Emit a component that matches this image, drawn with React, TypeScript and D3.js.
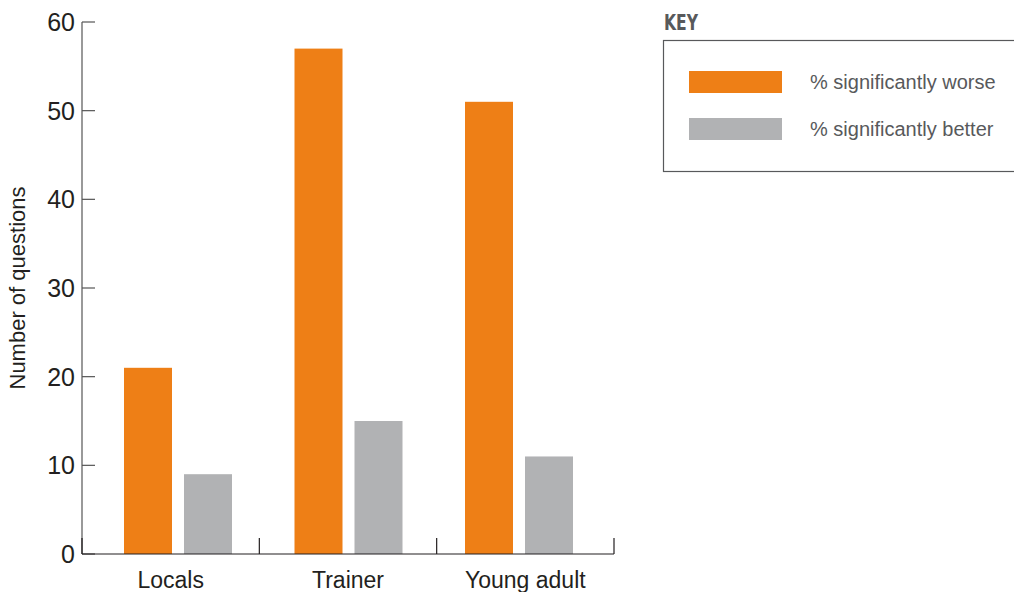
import { useEffect, useRef } from "react";
import * as d3 from "d3";

const categories = ["Locals", "Trainer", "Young adult"];
const worse = [21, 57, 51];
const better = [9, 15, 11];
const yTicks = [0, 10, 20, 30, 40, 50, 60];
const seriesNames = ["% significantly worse", "% significantly better"];

const ORANGE = "#ee7f16";
const GREY = "#b1b2b4";
const INK = "#231f20";
const SOFT = "#58595b";

export default function App() {
  const svgRef = useRef<SVGSVGElement>(null);
  const width = 1014;
  const height = 592;

  useEffect(() => {
    if (!svgRef.current) return;
    const svg = d3.select(svgRef.current);
    svg.selectAll("*").remove();

    const margin = { top: 22, left: 82 };
    const innerWidth = 532;
    const innerHeight = 532;

    const g = svg
      .append("g")
      .attr("transform", `translate(${margin.left},${margin.top})`);

    // category ticks split the axis evenly, bar pairs sit on their own grid
    const x = d3.scaleBand<string>().domain(categories).range([0, innerWidth]);
    const xPair = d3.scalePoint<string>().domain(categories).range([42, 383]);
    const y = d3.scaleLinear().domain([0, 60]).range([innerHeight, 0]);

    const barW = 48;
    const gap = 12;

    // y axis (ticks pointing inward)
    g.append("line")
      .attr("x1", 0)
      .attr("x2", 0)
      .attr("y1", 0)
      .attr("y2", innerHeight)
      .attr("stroke", "#555")
      .attr("stroke-width", 1.2);

    g.selectAll(".ytick")
      .data(yTicks)
      .enter()
      .append("line")
      .attr("x1", 0)
      .attr("x2", 13)
      .attr("y1", (d) => y(d))
      .attr("y2", (d) => y(d))
      .attr("stroke", "#555")
      .attr("stroke-width", 1.2);

    g.selectAll(".ylab")
      .data(yTicks)
      .enter()
      .append("text")
      .attr("x", -7)
      .attr("y", (d) => y(d))
      .attr("dy", "0.36em")
      .attr("text-anchor", "end")
      .attr("font-family", "Liberation Sans, Arial, sans-serif")
      .attr("font-size", 25)
      .attr("fill", INK)
      .text((d) => d);

    // bars
    const groups = g
      .selectAll(".cat")
      .data(categories)
      .enter()
      .append("g")
      .attr("transform", (d) => `translate(${xPair(d)!},0)`);

    groups
      .append("rect")
      .attr("x", 0)
      .attr("y", (_, i) => y(worse[i]))
      .attr("width", barW)
      .attr("height", (_, i) => innerHeight - y(worse[i]))
      .attr("fill", ORANGE);

    groups
      .append("rect")
      .attr("x", barW + gap)
      .attr("y", (_, i) => y(better[i]))
      .attr("width", barW)
      .attr("height", (_, i) => innerHeight - y(better[i]))
      .attr("fill", GREY);

    // x axis
    g.append("line")
      .attr("x1", 0)
      .attr("x2", innerWidth)
      .attr("y1", innerHeight)
      .attr("y2", innerHeight)
      .attr("stroke", INK)
      .attr("stroke-width", 1.2);

    const bounds = [...categories.map((c) => x(c)!), innerWidth];
    g.selectAll(".xtick")
      .data(bounds)
      .enter()
      .append("line")
      .attr("x1", (d) => d)
      .attr("x2", (d) => d)
      .attr("y1", innerHeight)
      .attr("y2", innerHeight - 16)
      .attr("stroke", INK)
      .attr("stroke-width", 1.2);

    g.selectAll(".xlab")
      .data(categories)
      .enter()
      .append("text")
      .attr("x", (d) => x(d)! + x.bandwidth() / 2)
      .attr("y", innerHeight + 34)
      .attr("text-anchor", "middle")
      .attr("font-family", "Liberation Sans, Arial, sans-serif")
      .attr("font-size", 23)
      .attr("fill", INK)
      .text((d) => d);

    // y title
    svg
      .append("text")
      .attr("transform", `translate(25,${margin.top + 266}) rotate(-90)`)
      .attr("text-anchor", "middle")
      .attr("font-family", "Liberation Sans, Arial, sans-serif")
      .attr("font-size", 22)
      .attr("fill", INK)
      .text("Number of questions");

    // key
    const key = svg.append("g");
    key
      .append("text")
      .attr("x", 664)
      .attr("y", 30)
      .attr("font-family", "DejaVu Sans Condensed, DejaVu Sans, sans-serif")
      .attr("font-stretch", "condensed")
      .attr("font-weight", "bold")
      .attr("font-size", 22)
      .attr("textLength", 34)
      .attr("lengthAdjust", "spacingAndGlyphs")
      .attr("fill", SOFT)
      .text("KEY");

    key
      .append("rect")
      .attr("x", 663.5)
      .attr("y", 40.5)
      .attr("width", 400)
      .attr("height", 131)
      .attr("fill", "none")
      .attr("stroke", SOFT)
      .attr("stroke-width", 1.2);

    const colors = [ORANGE, GREY];
    const rows = key
      .selectAll(".row")
      .data(seriesNames)
      .enter()
      .append("g")
      .attr("transform", (_, i) => `translate(0,${71 + i * 47})`);

    rows
      .append("rect")
      .attr("x", 689)
      .attr("y", 0)
      .attr("width", 93)
      .attr("height", 22)
      .attr("fill", (_, i) => colors[i]);

    rows
      .append("text")
      .attr("x", 810)
      .attr("y", 11)
      .attr("dy", "0.36em")
      .attr("font-family", "Liberation Sans, Arial, sans-serif")
      .attr("font-size", 20)
      .attr("fill", SOFT)
      .text((d) => d);
  }, []);

  return (
    <svg
      ref={svgRef}
      width={width}
      height={height}
      style={{ position: "absolute", left: 0, top: 0, background: "#fff" }}
    />
  );
}
